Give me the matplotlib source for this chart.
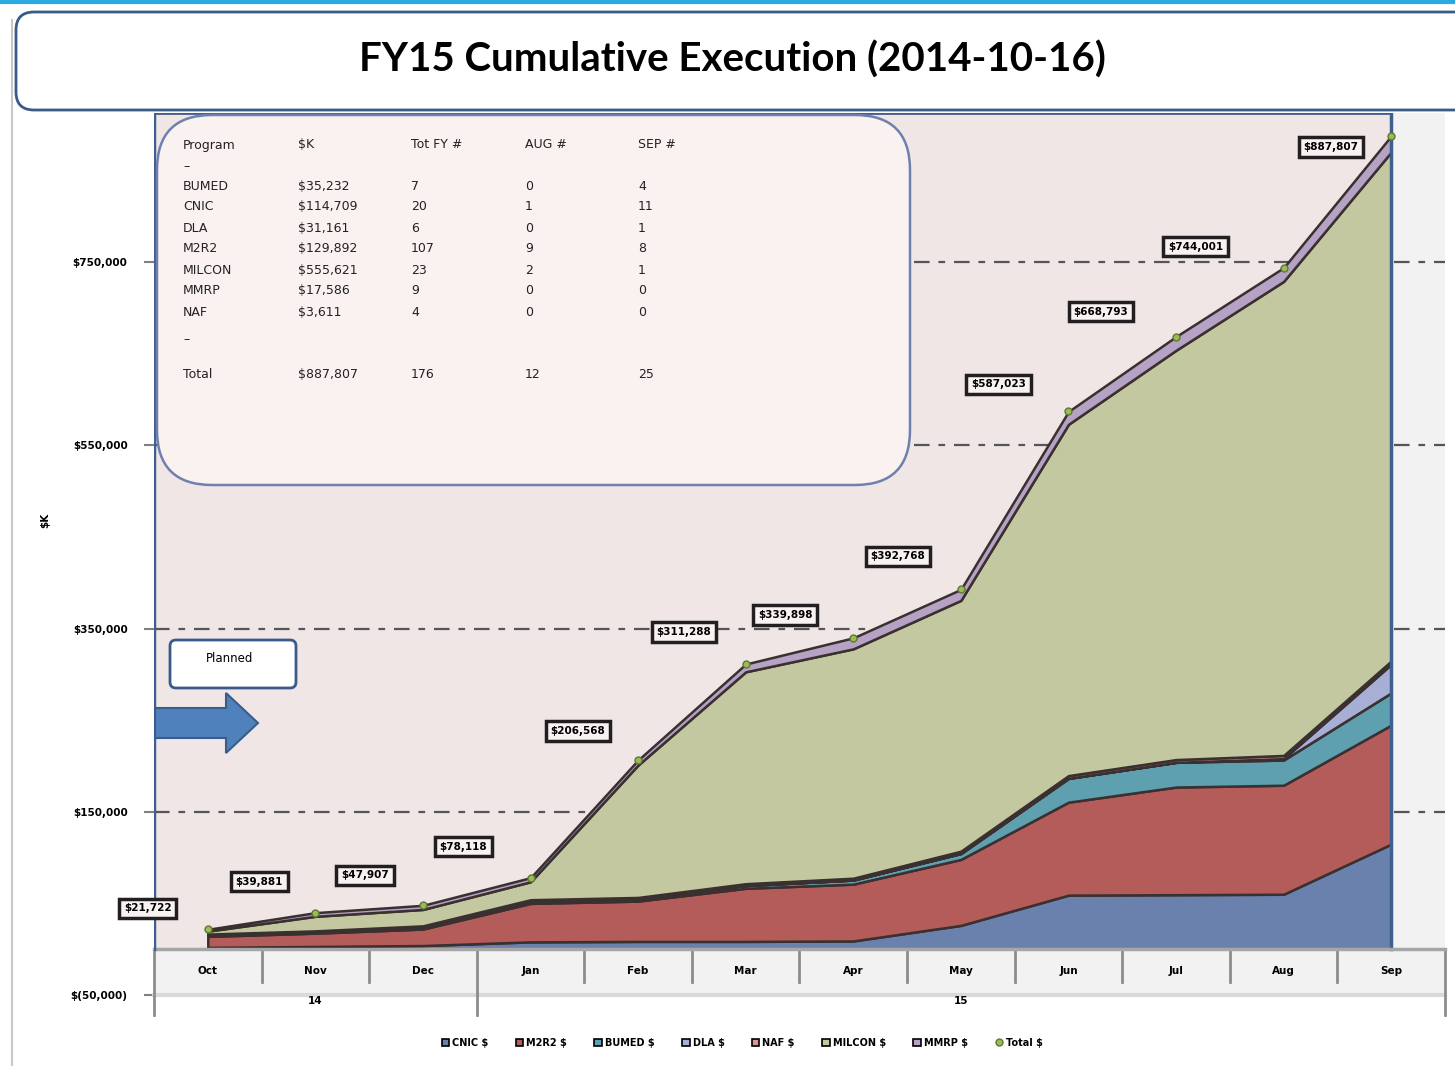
import numpy as np
import matplotlib
matplotlib.use("Agg")
import matplotlib.pyplot as plt
from matplotlib.patches import FancyBboxPatch, Rectangle, Polygon, Patch
from matplotlib.lines import Line2D
from matplotlib.transforms import Affine2D

# data (cumulative $ per month)
months = ["Oct", "Nov", "Dec", "Jan", "Feb", "Mar", "Apr", "May", "Jun", "Jul", "Aug", "Sep"]
years = ["14", "15"]
cnic = [2000, 3000, 4000, 8000, 8500, 8500, 9000, 26000, 59000, 59500, 60000, 114709]
m2r2 = [12000, 14500, 18000, 42000, 44000, 58000, 62000, 72000, 101500, 117500, 119000, 129892]
bumed = [1500, 1500, 2000, 2500, 2500, 3000, 4500, 6500, 26000, 27000, 27500, 35232]
dla = [0, 0, 0, 0, 0, 0, 0, 0, 0, 0, 1500, 31161]
naf = [1000, 1000, 1500, 1500, 1500, 2000, 2000, 2500, 3000, 3000, 3500, 3611]
milcon = [3200, 15900, 17900, 19600, 144600, 231300, 250400, 273800, 383500, 446800, 517500, 555621]
mmrp = [2000, 4000, 4500, 4500, 5500, 8500, 12000, 12000, 14000, 15000, 15000, 17586]
total = [21722, 39881, 47907, 78118, 206568, 311288, 339898, 392768, 587023, 668793, 744001, 887807]

series_names = ["CNIC $", "M2R2 $", "BUMED $", "DLA $", "NAF $", "MILCON $", "MMRP $"]
series_colors = ["#6A80AD", "#B45C5A", "#5E9FB0", "#A7AFD6", "#D99694", "#C3C8A0", "#B5A2C5"]

# summary table
tbl_header = ["Program", "$K", "Tot FY #", "AUG #", "SEP #"]
tbl_prog = ["BUMED", "CNIC", "DLA", "M2R2", "MILCON", "MMRP", "NAF"]
tbl_k = ["$35,232", "$114,709", "$31,161", "$129,892", "$555,621", "$17,586", "$3,611"]
tbl_fy = ["7", "20", "6", "107", "23", "9", "4"]
tbl_aug = ["0", "1", "0", "9", "2", "0", "0"]
tbl_sep = ["4", "11", "1", "8", "1", "0", "0"]
tbl_total = ["Total", "$887,807", "176", "12", "25"]

yticks = [-50000, 150000, 350000, 550000, 750000]

W, H = 1455, 1066
fig = plt.figure(figsize=(W / 100, H / 100), dpi=100)
fig.patch.set_facecolor("white")
px = Affine2D().scale(1 / W, -1 / H).translate(0, 1) + fig.transFigure

# frame bits
fig.add_artist(Line2D([0, W], [2, 2], color="#2DA9E1", lw=3, transform=px))
fig.add_artist(Line2D([12, 12], [20, H], color="#C8C8C8", lw=1.5, transform=px))
fig.add_artist(FancyBboxPatch((16, 12), 1480, 98, boxstyle="round,pad=0,rounding_size=18",
                              fc="white", ec="#3A5A8A", lw=2, transform=px))
fig.text(732 / W, 1 - 60 / H, "FY15 Cumulative Execution (2014-10-16)", family="Lato",
         fontsize=29, weight="bold", ha="center", va="center")

# main axes
ymin, ymax = -50000, 912800
ax = fig.add_axes([154 / W, 1 - 995 / H, (1445 - 154) / W, (995 - 113) / H])
ax.set_xlim(-0.5, 11.5)
ax.set_ylim(ymin, ymax)
ax.set_facecolor("#F2F2F2")
for s in ax.spines.values():
    s.set_visible(False)
ax.add_patch(Rectangle((-0.5, 0), 11.5, ymax, fc="#F0E6E6", ec="#3F5F8F", lw=2, zorder=0))

x = np.arange(len(months))
for g in yticks[1:]:
    ax.plot([-0.5, 11.5], [g, g], color="#555555", lw=1.6, dashes=(7, 4, 3, 4), zorder=1)

ax.stackplot(x, cnic, m2r2, bumed, dla, naf, milcon, mmrp, colors=series_colors,
             edgecolor="#3A3030", lw=1.8, zorder=2)
ax.plot([11, 11], [0, ymax], color="#3F5F8F", lw=2.5, zorder=3)
ax.plot(x, total, "o", ms=5, color="#9BBB59", mec="#5E7A2E", mew=1, zorder=4)

# data labels
lbl_off = [(-60, -21), (-56, -31), (-58, -30), (-67, -31), (-60, -29), (-62, -32),
           (-68, -23), (-63, -33), (-70, -27), (-75, -25), (-88, -21), (-60, 11)]
for i, v in enumerate(total):
    dx, dy = lbl_off[i]
    ax.annotate("${:,.0f}".format(v), (i, v), xytext=(dx, -dy), textcoords="offset pixels",
                ha="center", va="center", fontsize=7.5, weight="bold", zorder=5,
                bbox=dict(boxstyle="square,pad=0.45", fc="#F9F2F2", ec="#231F20", lw=2.5))

# category axis band
ax.plot([-0.5, 11.5], [0, 0], color="#A6A6A6", lw=2.5, zorder=3, clip_on=False)
ax.plot([-0.5, 11.5], [ymin, ymin], color="#D9D9D9", lw=3, clip_on=False)
ax.plot([-0.5, -0.5], [0, ymax], color="#3F5F8F", lw=2.5, zorder=3)
for b in np.arange(0.5, 11, 1):
    low = -72000 if b == 2.5 else -36000
    ax.plot([b, b], [0, low], color="#8C8C8C", lw=2, clip_on=False)
for b in [-0.5, 11.5]:
    ax.plot([b, b], [0, -72000], color="#8C8C8C", lw=2, clip_on=False)
for i, m in enumerate(months):
    ax.text(i, -24000, m, ha="center", va="center", fontsize=7.5, weight="bold")
ax.text(1, -56500, years[0], ha="center", va="center", fontsize=7.5, weight="bold")
ax.text(7, -56500, years[1], ha="center", va="center", fontsize=7.5, weight="bold", clip_on=False)

ax.set_xticks([])
ax.set_yticks(yticks)
ax.set_yticklabels(["$({:,})".format(-t) if t < 0 else "${:,}".format(t) for t in yticks],
                   fontsize=7.5, weight="bold")
ax.tick_params(axis="y", length=7, width=1.5, color="#808080", pad=12)
fig.text(45 / W, 1 - 520 / H, "$K", rotation=90, fontsize=7.5, weight="bold", ha="center", va="center")

# table box
fig.add_artist(FancyBboxPatch((157, 115), 753, 370, boxstyle="round,pad=0,rounding_size=55",
                              fc="#F9F2F1", ec="#7080AE", lw=1.8, transform=px))
cols = [183, 298, 411, 525, 638]
for c, h in zip(cols, tbl_header):
    fig.text(c / W, 1 - 145 / H, h, fontsize=9, va="center", color="#222222")
fig.text(cols[0] / W, 1 - 167 / H, "–", fontsize=9, va="center", color="#222222")
for r in range(len(tbl_prog)):
    yy = 186 + 21 * r
    row = [tbl_prog[r], tbl_k[r], tbl_fy[r], tbl_aug[r], tbl_sep[r]]
    for c, t in zip(cols, row):
        fig.text(c / W, 1 - yy / H, t, fontsize=9, va="center", color="#222222")
fig.text(cols[0] / W, 1 - 340 / H, "–", fontsize=9, va="center", color="#222222")
for c, t in zip(cols, tbl_total):
    fig.text(c / W, 1 - 375 / H, t, fontsize=9, va="center", color="#222222")

# planned box and arrow
fig.add_artist(FancyBboxPatch((170, 640), 126, 48, boxstyle="round,pad=0,rounding_size=6",
                              fc="white", ec="#3A5A8A", lw=2, transform=px))
fig.text(230 / W, 1 - 659 / H, "Planned", fontsize=8.5, ha="center", va="center")
fig.add_artist(Polygon([(155, 708), (226, 708), (226, 693), (258, 723), (226, 753), (226, 738), (155, 738)],
                       closed=True, fc="#4F81BD", ec="#385D8A", lw=1.5, transform=px))

# legend
handles = [Patch(fc=c, ec="black", lw=1.2) for c in series_colors]
handles.append(Line2D([], [], marker="o", ls="", ms=5, color="#9BBB59", mec="#5E7A2E"))
fig.legend(handles, series_names + ["Total $"], loc="center", bbox_to_anchor=(742 / W, 1 - 1043 / H),
           ncol=8, frameon=False, prop={"weight": "bold", "size": 7},
           handlelength=0.8, handleheight=0.8, handletextpad=0.3, columnspacing=2.8)

fig.savefig("out.png", dpi=100)
